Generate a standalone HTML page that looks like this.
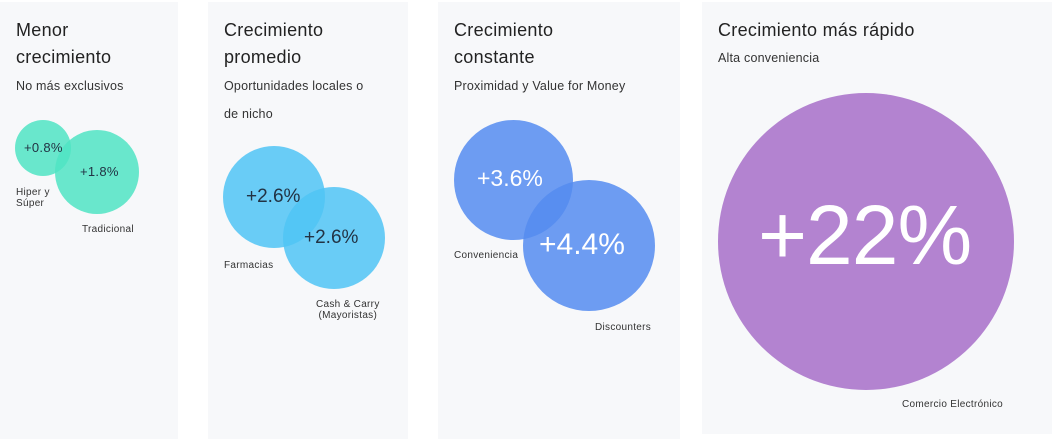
<!DOCTYPE html>
<html><head><meta charset="utf-8"><style>
html,body{margin:0;padding:0;width:1052px;height:439px;background:#fff;overflow:hidden;font-family:"Liberation Sans",sans-serif;color:#222}
.p{position:absolute;background:#f7f8fa;top:2px}
.t{position:absolute;font-size:18px;line-height:27px;color:#222;letter-spacing:0.3px}
.s{position:absolute;font-size:12.5px;line-height:28px;color:#333;letter-spacing:0.2px}
.l{position:absolute;font-size:10px;line-height:11px;color:#333;letter-spacing:0.3px}
.c{position:absolute;border-radius:50%}
</style></head><body>
<div class="p" style="left:0;width:178px;height:437px"></div>
<div class="p" style="left:208px;width:200px;height:437px"></div>
<div class="p" style="left:438px;width:242px;height:437px"></div>
<div class="p" style="left:702px;width:350px;height:432px"></div>

<div class="t" style="left:16px;top:17px">Menor<br>crecimiento</div>
<div class="s" style="left:16px;top:72px">No más exclusivos</div>
<div class="c" style="left:15px;top:120px;width:56px;height:56px;background:rgba(80,228,195,0.85)"></div>
<div class="c" style="left:55px;top:130px;width:84px;height:84px;background:rgba(80,228,195,0.85)"></div>
<div class="l" style="left:24px;top:141px;font-size:13px;line-height:14px;color:#234">+0.8%</div>
<div class="l" style="left:80px;top:165px;font-size:13px;line-height:14px;color:#234">+1.8%</div>
<div class="l" style="left:16px;top:187px">Hiper y<br>Súper</div>
<div class="l" style="left:82px;top:224px">Tradicional</div>

<div class="t" style="left:224px;top:17px">Crecimiento<br>promedio</div>
<div class="s" style="left:224px;top:72px">Oportunidades locales o<br>de nicho</div>
<div class="c" style="left:223px;top:146px;width:102px;height:102px;background:rgba(80,196,245,0.85)"></div>
<div class="c" style="left:283px;top:187px;width:102px;height:102px;background:rgba(80,196,245,0.85)"></div>
<div class="l" style="left:246px;top:187px;font-size:19px;line-height:20px;color:#234;letter-spacing:0">+2.6%</div>
<div class="l" style="left:304px;top:228px;font-size:19px;line-height:20px;color:#234;letter-spacing:0">+2.6%</div>
<div class="l" style="left:224px;top:260px">Farmacias</div>
<div class="l" style="left:316px;top:299px;text-align:center">Cash &amp; Carry<br>(Mayoristas)</div>

<div class="t" style="left:454px;top:17px">Crecimiento<br>constante</div>
<div class="s" style="left:454px;top:72px">Proximidad y Value for Money</div>
<div class="c" style="left:454px;top:120px;width:119px;height:120px;background:rgba(85,140,240,0.85)"></div>
<div class="c" style="left:523px;top:180px;width:132px;height:131px;background:rgba(85,140,240,0.85)"></div>
<div class="l" style="left:477px;top:166px;font-size:23px;line-height:24px;color:#fff;letter-spacing:0">+3.6%</div>
<div class="l" style="left:539px;top:229px;font-size:30px;line-height:32px;color:#fff;letter-spacing:0">+4.4%</div>
<div class="l" style="left:454px;top:250px">Conveniencia</div>
<div class="l" style="left:595px;top:322px">Discounters</div>

<div class="t" style="left:718px;top:17px">Crecimiento más rápido</div>
<div class="s" style="left:718px;top:44px">Alta conveniencia</div>
<div class="c" style="left:718px;top:93px;width:296px;height:297px;background:#b383d0"></div>
<div class="l" style="left:758px;top:189px;font-size:84px;line-height:92px;color:#fff;letter-spacing:-1px">+22%</div>
<div class="l" style="left:902px;top:399px">Comercio Electrónico</div>
</body></html>
